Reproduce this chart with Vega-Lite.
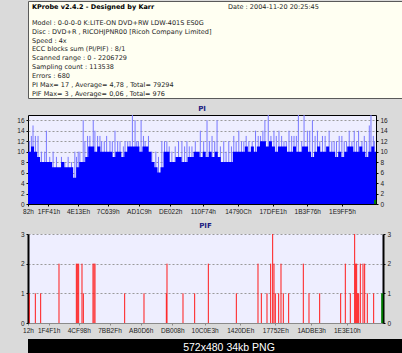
{
  "$schema": "https://vega.github.io/schema/vega-lite/v6.json",
  "background": "#DADADA",
  "padding": 0,
  "spacing": 5,
  "config": {
    "view": {"stroke": null},
    "axis": {"labelFont": "Liberation Sans", "labelFontSize": 6.5, "labelColor": "#222222", "title": null, "tickSize": 2, "labelPadding": 2, "labelOverlap": false},
    "title": {"font": "DejaVu Sans", "fontSize": 7, "fontWeight": "bold", "color": "#1A1A80"}
  },
  "datasets": {
    "header": [{"line": 0, "text": "KProbe v2.4.2 - Designed by Karr"}],
    "date": [{"line": 0, "text": "Date : 2004-11-20 20:25:45"}],
    "info": [
      {"line": 1, "text": "Model : 0-0-0-0 K:LITE-ON DVD+RW LDW-401S  ES0G"},
      {"line": 2, "text": "Disc : DVD+R , RICOHJPNR00 [Ricoh Company Limited]"},
      {"line": 3, "text": "Speed : 4x"},
      {"line": 4, "text": "ECC blocks sum (PI/PIF) : 8/1"},
      {"line": 5, "text": "Scanned range : 0 - 2206729"},
      {"line": 6, "text": "Sampling count : 113538"},
      {"line": 7, "text": "Errors : 680"},
      {"line": 8, "text": "PI Max= 17 , Average= 4,78 , Total= 79294"},
      {"line": 9, "text": "PIF Max= 3 , Average= 0,06 , Total= 976"}
    ],
    "pi_base": [
      {"sector":0,"pi":10},{"sector":19255,"pi":11},{"sector":38510,"pi":10},{"sector":57765,"pi":9},{"sector":77020,"pi":8},
      {"sector":96275,"pi":8},{"sector":115530,"pi":8},{"sector":134785,"pi":8},{"sector":154040,"pi":7},{"sector":173295,"pi":7},
      {"sector":192550,"pi":7},{"sector":211805,"pi":8},{"sector":231060,"pi":7},{"sector":250315,"pi":7},{"sector":269570,"pi":7},
      {"sector":288825,"pi":5},{"sector":308080,"pi":7},{"sector":327335,"pi":8},{"sector":346590,"pi":8},{"sector":365845,"pi":9},
      {"sector":385100,"pi":11},{"sector":404355,"pi":11},{"sector":423610,"pi":10},{"sector":442865,"pi":11},{"sector":462120,"pi":10},
      {"sector":481375,"pi":10},{"sector":500630,"pi":10},{"sector":519885,"pi":10},{"sector":539140,"pi":9},{"sector":558395,"pi":10},
      {"sector":577650,"pi":10},{"sector":596905,"pi":9},{"sector":616160,"pi":10},{"sector":635415,"pi":11},{"sector":654670,"pi":11},
      {"sector":673925,"pi":11},{"sector":693180,"pi":11},{"sector":712435,"pi":10},{"sector":731690,"pi":11},{"sector":750945,"pi":11},
      {"sector":770200,"pi":10},{"sector":789455,"pi":8},{"sector":808710,"pi":7},{"sector":827965,"pi":6},{"sector":847220,"pi":7},
      {"sector":866475,"pi":10},{"sector":885730,"pi":10},{"sector":904985,"pi":8},{"sector":924240,"pi":8},{"sector":943495,"pi":9},
      {"sector":962750,"pi":9},{"sector":982005,"pi":8},{"sector":1001260,"pi":8},{"sector":1020515,"pi":9},{"sector":1039770,"pi":9},
      {"sector":1059025,"pi":10},{"sector":1078280,"pi":10},{"sector":1097535,"pi":9},{"sector":1116790,"pi":10},{"sector":1136045,"pi":9},
      {"sector":1155300,"pi":10},{"sector":1174555,"pi":9},{"sector":1193810,"pi":10},{"sector":1213065,"pi":9},{"sector":1232320,"pi":8},
      {"sector":1251575,"pi":8},{"sector":1270830,"pi":8},{"sector":1290085,"pi":8},{"sector":1309340,"pi":10},{"sector":1328595,"pi":10},
      {"sector":1347850,"pi":10},{"sector":1367105,"pi":10},{"sector":1386360,"pi":11},{"sector":1405615,"pi":10},{"sector":1424870,"pi":11},
      {"sector":1444125,"pi":10},{"sector":1463380,"pi":11},{"sector":1482635,"pi":12},{"sector":1501890,"pi":12},{"sector":1521145,"pi":11},
      {"sector":1540400,"pi":12},{"sector":1559655,"pi":11},{"sector":1578910,"pi":10},{"sector":1598165,"pi":11},{"sector":1617420,"pi":11},
      {"sector":1636675,"pi":11},{"sector":1655930,"pi":10},{"sector":1675185,"pi":10},{"sector":1694440,"pi":11},{"sector":1713695,"pi":10},
      {"sector":1732950,"pi":10},{"sector":1752205,"pi":11},{"sector":1771460,"pi":11},{"sector":1790715,"pi":10},{"sector":1809970,"pi":9},
      {"sector":1829225,"pi":10},{"sector":1848480,"pi":11},{"sector":1867735,"pi":10},{"sector":1886990,"pi":10},{"sector":1906245,"pi":11},
      {"sector":1925500,"pi":10},{"sector":1944755,"pi":10},{"sector":1964010,"pi":9},{"sector":1983265,"pi":10},{"sector":2002520,"pi":9},
      {"sector":2021775,"pi":10},{"sector":2041030,"pi":11},{"sector":2060285,"pi":11},{"sector":2079540,"pi":10},{"sector":2098795,"pi":10},
      {"sector":2118050,"pi":11},{"sector":2137305,"pi":10},{"sector":2156560,"pi":9},{"sector":2175815,"pi":10},{"sector":2195070,"pi":11},
      {"sector":2214325,"pi":10},{"sector":2225000,"pi":10}
    ],
    "pi_spikes": [
      {"sector":8558,"pi":12},{"sector":32091,"pi":15},{"sector":47067,"pi":13},{"sector":64182,"pi":13},{"sector":106970,"pi":10},
      {"sector":117667,"pi":14},{"sector":181849,"pi":9},{"sector":256728,"pi":9},{"sector":278122,"pi":8},{"sector":310213,"pi":9},
      {"sector":320910,"pi":10},{"sector":353001,"pi":16},{"sector":363698,"pi":12},{"sector":395789,"pi":13},{"sector":417183,"pi":16},
      {"sector":427880,"pi":14},{"sector":444995,"pi":13},{"sector":470668,"pi":12},{"sector":502759,"pi":13},{"sector":539129,"pi":12},
      {"sector":556244,"pi":14},{"sector":588335,"pi":12},{"sector":620426,"pi":12},{"sector":652517,"pi":12},{"sector":667493,"pi":17},
      {"sector":684608,"pi":16},{"sector":706002,"pi":12},{"sector":723117,"pi":16},{"sector":748790,"pi":12},{"sector":770184,"pi":13},
      {"sector":817251,"pi":10},{"sector":855760,"pi":12},{"sector":887851,"pi":12},{"sector":919942,"pi":10},{"sector":984124,"pi":12},
      {"sector":1016215,"pi":12},{"sector":1048306,"pi":11},{"sector":1101791,"pi":14},{"sector":1144579,"pi":16},{"sector":1176670,"pi":13},
      {"sector":1208761,"pi":16},{"sector":1251549,"pi":12},{"sector":1283640,"pi":12},{"sector":1315731,"pi":13},{"sector":1347822,"pi":14},
      {"sector":1379913,"pi":12},{"sector":1412004,"pi":12},{"sector":1454792,"pi":14},{"sector":1486883,"pi":13},{"sector":1514695,"pi":16},
      {"sector":1536089,"pi":17},{"sector":1572459,"pi":14},{"sector":1604550,"pi":14},{"sector":1636641,"pi":12},{"sector":1668732,"pi":14},
      {"sector":1700823,"pi":13},{"sector":1728635,"pi":17},{"sector":1765005,"pi":17},{"sector":1786399,"pi":14},{"sector":1818490,"pi":16},
      {"sector":1850581,"pi":14},{"sector":1882672,"pi":13},{"sector":1925460,"pi":14},{"sector":1957551,"pi":12},{"sector":1989642,"pi":13},
      {"sector":2021733,"pi":12},{"sector":2053824,"pi":14},{"sector":2085915,"pi":14},{"sector":2113727,"pi":14},{"sector":2150097,"pi":13},
      {"sector":2182188,"pi":15},{"sector":2192885,"pi":17},{"sector":2214279,"pi":12},
      {"sector":21394,"pi":13},{"sector":85576,"pi":10},{"sector":139061,"pi":9},{"sector":160455,"pi":10},{"sector":213940,"pi":9},
      {"sector":235334,"pi":8},{"sector":299516,"pi":10},{"sector":331607,"pi":10},{"sector":380813,"pi":13},{"sector":459971,"pi":13},
      {"sector":487783,"pi":12},{"sector":524153,"pi":12},{"sector":573359,"pi":12},{"sector":609729,"pi":11},{"sector":637541,"pi":12},
      {"sector":695305,"pi":12},{"sector":738093,"pi":13},{"sector":791578,"pi":10},{"sector":834366,"pi":9},{"sector":872875,"pi":12},
      {"sector":902827,"pi":11},{"sector":941336,"pi":11},{"sector":962730,"pi":12},{"sector":1001239,"pi":11},{"sector":1031191,"pi":11},
      {"sector":1069700,"pi":12},{"sector":1123185,"pi":12},{"sector":1159555,"pi":12},{"sector":1193785,"pi":12},{"sector":1230155,"pi":11},
      {"sector":1266525,"pi":10},{"sector":1300755,"pi":11},{"sector":1330707,"pi":12},{"sector":1364937,"pi":12},{"sector":1394889,"pi":13},
      {"sector":1433398,"pi":12},{"sector":1471907,"pi":13},{"sector":1501859,"pi":14},{"sector":1553204,"pi":13},{"sector":1587435,"pi":13},
      {"sector":1621665,"pi":13},{"sector":1651617,"pi":12},{"sector":1685847,"pi":13},{"sector":1715799,"pi":13},{"sector":1750029,"pi":12},
      {"sector":1801375,"pi":14},{"sector":1835605,"pi":13},{"sector":1865557,"pi":12},{"sector":1899787,"pi":13},{"sector":1942575,"pi":12},
      {"sector":1972527,"pi":12},{"sector":2006757,"pi":13},{"sector":2036709,"pi":12},{"sector":2070939,"pi":12},{"sector":2100891,"pi":12},
      {"sector":2135121,"pi":12},{"sector":2165073,"pi":12},{"sector":2207861,"pi":13}
    ],
    "pi_green": [{"sector": 2219000, "pi": 0.8}],
    "pif": [
      {"sector":8288,"pif":1},{"sector":45584,"pif":1},{"sector":78736,"pif":1},{"sector":192696,"pif":2},{"sector":300440,"pif":2},
      {"sector":306656,"pif":2},{"sector":314944,"pif":2},{"sector":335664,"pif":2},{"sector":343952,"pif":1},{"sector":404040,"pif":2},
      {"sector":410256,"pif":2},{"sector":416472,"pif":2},{"sector":600880,"pif":1},{"sector":721056,"pif":1},{"sector":859880,"pif":1},
      {"sector":864024,"pif":2},{"sector":963480,"pif":1},{"sector":1036000,"pif":1},{"sector":1120952,"pif":2},{"sector":1295000,"pif":1},
      {"sector":1429680,"pif":2},{"sector":1450400,"pif":1},{"sector":1485624,"pif":1},{"sector":1508416,"pif":2},{"sector":1520848,"pif":3},
      {"sector":1529136,"pif":2},{"sector":1537424,"pif":1},{"sector":1558144,"pif":1},{"sector":1572648,"pif":2},{"sector":1587152,"pif":1},
      {"sector":1620304,"pif":1},{"sector":1711472,"pif":2},{"sector":1746696,"pif":1},{"sector":1813000,"pif":1},{"sector":1943536,"pif":1},
      {"sector":1972544,"pif":2},{"sector":2003624,"pif":1},{"sector":2030560,"pif":3},{"sector":2036776,"pif":2},{"sector":2042992,"pif":2},
      {"sector":2049208,"pif":1},{"sector":2055424,"pif":1},{"sector":2065784,"pif":2},{"sector":2082360,"pif":2},{"sector":2092720,"pif":2},
      {"sector":2109296,"pif":1},{"sector":2148664,"pif":1}
    ],
    "pif_green": [{"sector": 2201500, "pif": 1}],
    "caption": [{"text": "572x480 34kb PNG"}]
  },
  "vconcat": [
    {
      "width": 402,
      "height": 97,
      "view": {"fill": "#FFFFF2", "stroke": "#5A5A5A"},
      "layer": [
        {
          "data": {"name": "info"},
          "mark": {"type": "text", "align": "left", "baseline": "middle", "font": "DejaVu Sans", "fontSize": 6.5, "color": "#1E1E1E", "x": 4},
          "encoding": {
            "y": {"field": "line", "type": "quantitative", "scale": {"domain": [-1.44, 9.46], "reverse": true, "nice": false, "zero": false}, "axis": null},
            "text": {"field": "text"}
          }
        },
        {
          "data": {"name": "header"},
          "mark": {"type": "text", "align": "left", "baseline": "middle", "font": "DejaVu Sans", "fontSize": 6.5, "fontWeight": "bold", "color": "#000000", "x": 4, "dy": -7},
          "encoding": {
            "y": {"field": "line", "type": "quantitative"},
            "text": {"field": "text"}
          }
        },
        {
          "data": {"name": "date"},
          "mark": {"type": "text", "align": "left", "baseline": "middle", "font": "DejaVu Sans", "fontSize": 6.5, "color": "#1E1E1E", "x": 200, "dy": -7},
          "encoding": {
            "y": {"field": "line", "type": "quantitative"},
            "text": {"field": "text"}
          }
        }
      ]
    },
    {
      "width": 348,
      "height": 89,
      "title": {"text": "PI", "offset": 3},
      "view": {"fill": "#EEEEFF", "stroke": "#000000"},
      "resolve": {"axis": {"y": "independent"}},
      "layer": [
        {
          "data": {"name": "pi_spikes"},
          "mark": {"type": "rule", "color": "#7878FF", "strokeWidth": 1},
          "encoding": {
            "x": {"field": "sector", "type": "quantitative", "scale": {"domain": [0, 2225000], "nice": false, "zero": false},
                  "axis": {"values": [130, 130881, 319806, 509497, 709065, 909346, 1118068, 1341708, 1564641, 1785718, 2007029], "tickCount": 40,
                           "labelExpr": "format(datum.value, 'X') + 'h'", "grid": false, "domainColor": "#000000", "tickColor": "#000000",
                           "labelOverlap": false, "labelFlush": false, "labelBound": false, "minExtent": 12, "maxExtent": 12}},
            "y": {"field": "pi", "type": "quantitative", "scale": {"domain": [0, 17], "nice": false},
                  "axis": {"orient": "left", "values": [0, 2, 4, 6, 8, 10, 12, 14, 16], "tickCount": 20, "format": "d", "grid": true, "gridDash": [2, 2], "gridColor": "#9A9A9A",
                           "domain": false, "tickColor": "#000000", "minExtent": 27, "maxExtent": 27}},
            "y2": {"datum": 0}
          }
        },
        {
          "data": {"name": "pi_base"},
          "mark": {"type": "area", "color": "#0000FF", "interpolate": "step-after", "opacity": 1},
          "encoding": {
            "x": {"field": "sector", "type": "quantitative"},
            "y": {"field": "pi", "type": "quantitative",
                  "axis": {"orient": "right", "values": [0, 2, 4, 6, 8, 10, 12, 14, 16], "tickCount": 20, "format": "d", "grid": false, "domain": false, "tickColor": "#000000"}}
          }
        },
        {
          "data": {"name": "pi_green"},
          "mark": {"type": "rule", "color": "#008000", "strokeWidth": 2},
          "encoding": {
            "x": {"field": "sector", "type": "quantitative"},
            "y": {"field": "pi", "type": "quantitative", "axis": null},
            "y2": {"datum": 0}
          }
        }
      ]
    },
    {
      "width": 355,
      "height": 89,
      "title": {"text": "PIF", "offset": 2},
      "view": {"fill": "#EEEEFF", "stroke": null},
      "resolve": {"axis": {"y": "independent"}},
      "layer": [
        {
          "data": {"name": "pif"},
          "mark": {"type": "rule", "color": "#FF1A1A", "strokeWidth": 1},
          "encoding": {
            "x": {"field": "sector", "type": "quantitative", "scale": {"domain": [0, 2206729], "nice": false, "zero": false},
                  "axis": {"values": [18, 128241, 315288, 506671, 700630, 897032, 1097955, 1319134, 1537326, 1760227, 1981968], "tickCount": 40,
                           "labelExpr": "format(datum.value, 'X') + 'h'", "grid": false, "domainColor": "#8A8A8A", "tickColor": "#8A8A8A",
                           "labelOverlap": false, "labelFlush": false, "labelBound": false, "minExtent": 10, "maxExtent": 10}},
            "y": {"field": "pif", "type": "quantitative", "scale": {"domain": [0, 3], "nice": false},
                  "axis": {"orient": "left", "values": [0, 1, 2, 3], "tickCount": 10, "format": "d", "grid": true, "gridDash": [2, 2], "gridColor": "#9A9A9A",
                           "domainColor": "#000000", "domainWidth": 2, "tickColor": "#000000", "minExtent": 23, "maxExtent": 23}},
            "y2": {"datum": 0}
          }
        },
        {
          "data": {"name": "pif_green"},
          "mark": {"type": "rule", "color": "#007A00", "strokeWidth": 2},
          "encoding": {
            "x": {"field": "sector", "type": "quantitative"},
            "y": {"field": "pif", "type": "quantitative",
                  "axis": {"orient": "right", "values": [0, 1, 2, 3], "tickCount": 10, "format": "d", "grid": false, "domainColor": "#000000", "domainWidth": 2, "tickColor": "#000000"}},
            "y2": {"datum": 0}
          }
        }
      ]
    },
    {
      "width": 402,
      "height": 16,
      "view": {"fill": "#000000", "stroke": null},
      "data": {"name": "caption"},
      "mark": {"type": "text", "color": "#FFFFFF", "font": "Liberation Sans", "fontSize": 10.5, "baseline": "middle", "dy": 1},
      "encoding": {"text": {"field": "text"}}
    }
  ]
}
